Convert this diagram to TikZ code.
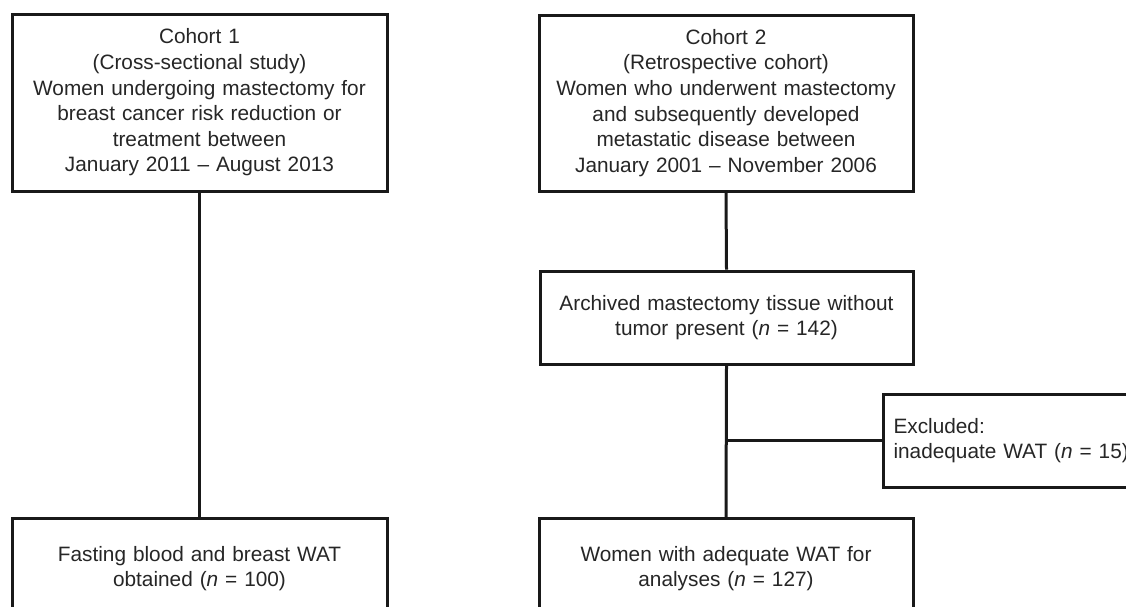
\documentclass[tikz,border=0pt]{standalone}
\usepackage{fontspec}
\setmainfont{Liberation Sans}
\begin{document}
\begin{tikzpicture}[x=1pt,y=-1pt,
  box/.style={draw=black!90, line width=3pt, fill=white, align=center,
    inner sep=0pt, font=\fontsize{20.8}{25.6}\selectfont, text=black!85},
  link/.style={draw=black!90, line width=3pt}]
\useasboundingbox (0,0) rectangle (1126,606);
\clip (0,0) rectangle (1126,606);
\node[box, minimum width=375pt, minimum height=177pt, text width=370pt] (c1) at (199.5,102.5)
  {Cohort 1\\(Cross-sectional study)\\Women undergoing mastectomy for\\breast cancer risk reduction or\\treatment between\\January 2011 -- August 2013};
\node[box, minimum width=374pt, minimum height=176pt, text width=370pt] (c2) at (726,103)
  {Cohort 2\\(Retrospective cohort)\\Women who underwent mastectomy\\and subsequently developed\\metastatic disease between\\January 2001 -- November 2006};
\node[box, minimum width=373pt, minimum height=93pt, text width=370pt] (arch) at (726.5,317.5)
  {Archived mastectomy tissue without\\tumor present (\textit{n} = 142)};
\node[box, anchor=west, minimum width=290pt, minimum height=93pt, text width=270pt, align=left] (excl) at (882,440.5)
  {Excluded:\\inadequate WAT (\textit{n} = 15)};
\node[box, anchor=north, minimum width=375pt, minimum height=100pt, text width=370pt] (f1) at (199.5,517)
  {Fasting blood and breast WAT\\obtained (\textit{n} = 100)};
\node[box, anchor=north, minimum width=374pt, minimum height=100pt, text width=370pt] (f2) at (726,517)
  {Women with adequate WAT for\\analyses (\textit{n} = 127)};
\coordinate (br) at (arch.south |- excl.west);
\draw[link] (c1.south) -- (f1.north);
\draw[link] (c2.south) -- (arch.north);
\draw[link] (arch.south) -- (f2.north);
\draw[link] (br) -- (excl.west);
\end{tikzpicture}
\end{document}
